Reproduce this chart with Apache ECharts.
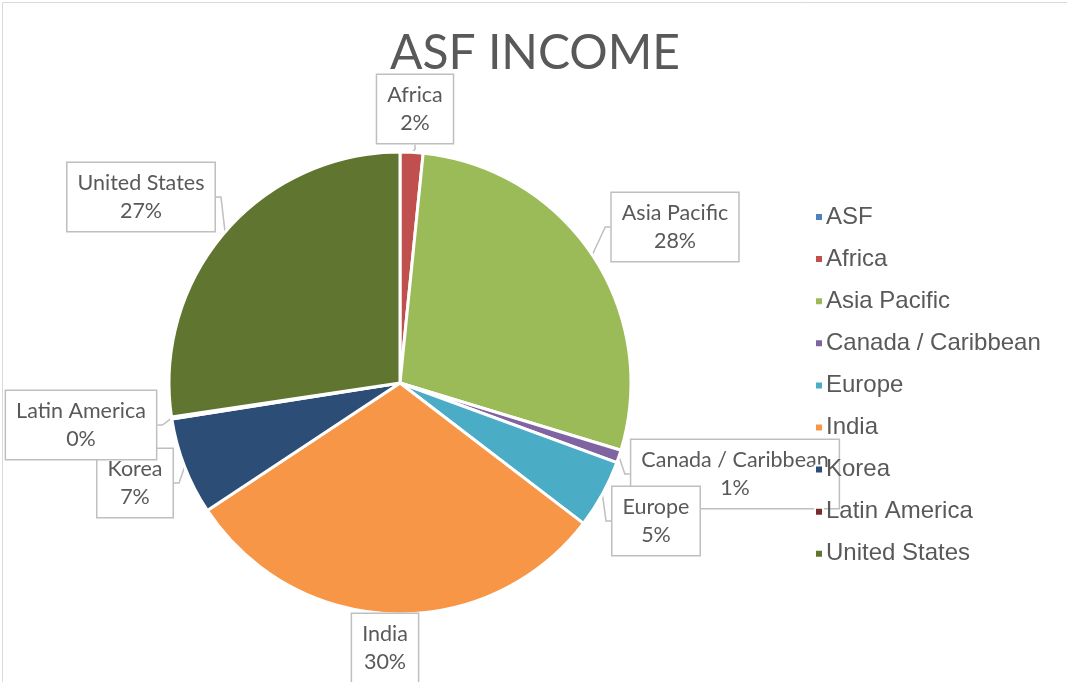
<!DOCTYPE html>
<html>
<head>
<meta charset="utf-8">
<script src="https://cdn.jsdelivr.net/npm/echarts@6/dist/echarts.min.js"></script>
<style>
html,body{margin:0;padding:0;background:#fff;}
#c{width:1067px;height:682px;}
</style>
</head>
<body>
<div id="c"></div>
<script>
var categories = ['ASF', 'Africa', 'Asia Pacific', 'Canada / Caribbean', 'Europe', 'India', 'Korea', 'Latin America', 'United States'];
var values = [0, 1.6, 28.1, 0.9, 4.8, 30.3, 6.8, 0.15, 27.35];
var colors = ['#4f81bd', '#c0504d', '#9bbb59', '#8064a2', '#4bacc6', '#f79646', '#2c4d75', '#772c2a', '#5f7530'];
var titleText = 'ASF INCOME';

// label box centres (callout placement)
var labelSpots = {
  'Africa': [415, 109],
  'Asia Pacific': [675, 227],
  'Canada / Caribbean': [735, 474],
  'Europe': [656, 521],
  'India': [385, 648],
  'Korea': [135, 483],
  'Latin America': [81, 425],
  'United States': [141, 197]
};

var chart = echarts.init(document.getElementById('c'), null, {renderer: 'canvas'});
var data = categories.map(function (n, i) {
  var d = {name: n, value: values[i], itemStyle: {color: colors[i]}};
  if (values[i] === 0) { d.label = {show: false}; d.labelLine = {show: false}; }
  return d;
});

chart.setOption({
  animation: false,
  backgroundColor: '#fff',
  title: {
    text: titleText,
    left: 530, top: 25, textAlign: 'center',
    textStyle: {fontFamily: 'Lato', fontSize: 48, fontWeight: 'normal', color: '#595959'}
  },
  legend: {
    orient: 'vertical',
    left: 809, top: 200,
    icon: 'rect', itemWidth: 8, itemHeight: 8, itemGap: 18.1,
    data: categories,
    textStyle: {fontFamily: 'Liberation Sans', fontSize: 24, color: '#595959', lineHeight: 24, padding: [0,0,0,-2]}
  },
  graphic: [{
    type: 'rect', left: 0, top: 0, z: 100, silent: true,
    shape: {width: 1066, height: 681},
    style: {fill: 'none', stroke: '#d9d9d9', lineWidth: 1}
  }],
  series: [{
    type: 'pie',
    center: [400, 383],
    radius: [0, 231],
    startAngle: 90,
    clockwise: true,
    percentPrecision: 0,
    avoidLabelOverlap: false,
    itemStyle: {borderColor: '#fff', borderWidth: 3},
    label: {
      show: true,
      formatter: '{b}\n{d}%',
      fontFamily: 'Lato', fontSize: 21.5, lineHeight: 28, color: '#595959',
      backgroundColor: '#fff', borderColor: '#bfbfbf', borderWidth: 1.5,
      padding: [6, 10], align: 'center'
    },
    labelLine: {show: true, length: 10, length2: 5, lineStyle: {color: '#bfbfbf', width: 1.5}},
    labelLayout: function (p) {
      var s = labelSpots[categories[p.dataIndex]];
      if (!s) return {};
      return {x: s[0], y: s[1], align: 'center', verticalAlign: 'middle'};
    },
    emphasis: {disabled: true},
    data: data
  }]
});
</script>
</body>
</html>
